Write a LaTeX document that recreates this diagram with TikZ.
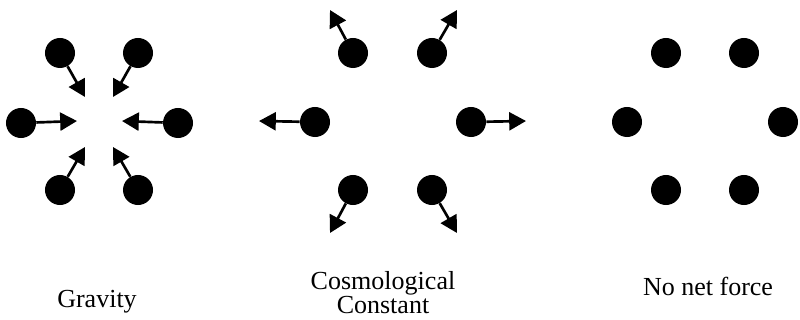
\documentclass[tikz,border=0pt]{standalone}
\usepackage{fontspec}
\setmainfont{Liberation Serif}
\usetikzlibrary{arrows.meta}
\begin{document}
\begin{tikzpicture}[x=0.025cm,y=-0.025cm,
  ball/.style={circle,fill=black,minimum size=0.75cm,inner sep=0pt},
  force/.style={line width=1.9pt,-{Triangle[length=0.42cm,width=0.45cm]}},
  lbl/.style={font=\fontsize{18.5}{16.5}\selectfont,align=center,inner sep=0pt}]
\useasboundingbox (0,0) rectangle (800,320);
% Gravity
\node[ball] (g1) at (60,53) {};
\node[ball] (g2) at (138,53) {};
\node[ball] (g3) at (21,123) {};
\node[ball] (g4) at (178,123) {};
\node[ball] (g5) at (60,190) {};
\node[ball] (g6) at (138,190) {};
\coordinate (gt1) at (85,97);
\coordinate (gt2) at (113,97);
\coordinate (gt3) at (77,121);
\coordinate (gt4) at (122,121);
\coordinate (gt5) at (85,147);
\coordinate (gt6) at (113,147);
\foreach \i in {1,...,6} \draw[force] (g\i) -- (gt\i);
% Cosmological constant
\node[ball] (c1) at (353,53) {};
\node[ball] (c2) at (432,53) {};
\node[ball] (c3) at (315,122) {};
\node[ball] (c4) at (471,122) {};
\node[ball] (c5) at (353,190) {};
\node[ball] (c6) at (432,190) {};
\coordinate (ct1) at (330,10);
\coordinate (ct2) at (457,10);
\coordinate (ct3) at (259,121);
\coordinate (ct4) at (526,121);
\coordinate (ct5) at (330,233);
\coordinate (ct6) at (457,233);
\foreach \i in {1,...,6} \draw[force] (c\i) -- (ct\i);
% No net force
\node[ball] (n1) at (666,53) {};
\node[ball] (n2) at (744,53) {};
\node[ball] (n3) at (627,122) {};
\node[ball] (n4) at (783,122) {};
\node[ball] (n5) at (666,190) {};
\node[ball] (n6) at (744,190) {};
% Labels
\node[lbl,anchor=base] (lg) at (97,307) {Gravity};
\node[lbl,anchor=base] (lc) at (383,313) {Cosmological\\Constant};
\node[lbl,anchor=base] (ln) at (708,295) {No net force};
\end{tikzpicture}
\end{document}
